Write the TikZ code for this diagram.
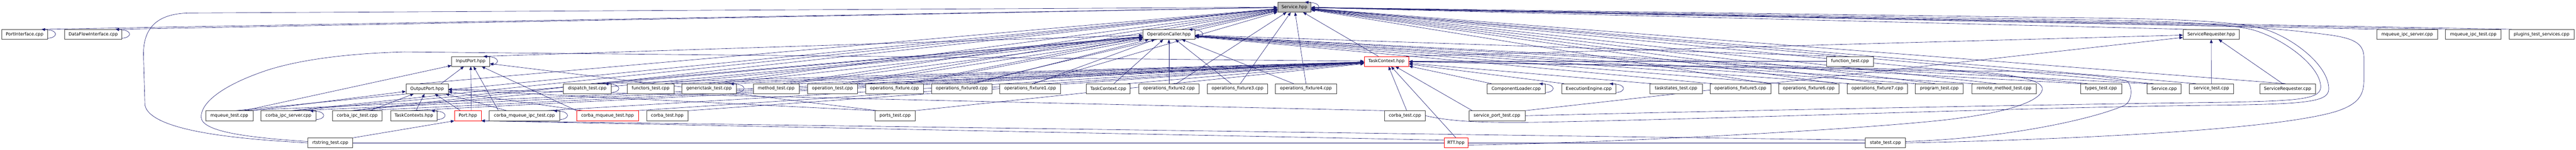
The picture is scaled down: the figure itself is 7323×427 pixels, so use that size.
\documentclass[tikz,border=0pt]{standalone}
\usepackage{fontspec}
\setmainfont{DejaVu Sans}
\usetikzlibrary{arrows.meta}
\definecolor{mblue}{HTML}{191970}
\definecolor{nodegray}{HTML}{404040}
\definecolor{fillgray}{HTML}{BFBFBF}
\newcommand\dxfont{\fontsize{12.4pt}{14pt}\selectfont}
\pgfdeclarelayer{bg}
\pgfdeclarelayer{fg}
\pgfsetlayers{bg,main,fg}
\newcommand\selfloop[1]{\draw[edge] ([yshift=-11pt]#1.east) .. controls +(30pt,2pt) and +(28pt,-2pt) .. ([yshift=13pt]#1.east) -- ([xshift=-18pt]#1.north east);}
\begin{document}
\begin{tikzpicture}[x=1pt,y=-1pt,
  box/.style={draw=nodegray,line width=1pt,fill=white,minimum height=28pt,inner sep=0pt,font=\dxfont},
  redbox/.style={box,draw=red},
  rootbox/.style={box,fill=fillgray},
  edge/.style={draw=mblue,line width=0.9pt,-{Triangle[length=10pt,width=8pt]}},
  plainedge/.style={draw=mblue,line width=0.9pt}]
\useasboundingbox (0,0) rectangle (7323,427);
% row 0
\node[rootbox,minimum width=95pt] (S) at (3679.5,20.5) {Service.hpp};
% row 1
\node[box,minimum width=131pt] (PI) at (70,98) {PortInterface.cpp};
\node[box,minimum width=162pt] (DFI) at (265,98) {DataFlowInterface.cpp};
\node[box,minimum width=148pt] (OC) at (3323,98) {OperationCaller.hpp};
\node[box,minimum width=160pt] (SRh) at (6286,98) {ServiceRequester.hpp};
\node[box,minimum width=172pt] (MIS) at (6843,98) {mqueue\_ipc\_server.cpp};
\node[box,minimum width=158pt] (MIT) at (7031,98) {mqueue\_ipc\_test.cpp};
\node[box,minimum width=184pt] (PTS) at (7225,98) {plugins\_test\_services.cpp};
% row 2
\node[box,minimum width=108pt] (IP) at (1338,175) {InputPort.hpp};
\node[redbox,minimum width=127pt] (TC) at (3941.5,175) {TaskContext.hpp};
\node[box,minimum width=132pt] (FT) at (5259,175) {function\_test.cpp};
% row 3
\node[box,minimum width=120pt] (OP) at (1214,253) {OutputPort.hpp};
\node[box,minimum width=135pt] (DT) at (1669.5,253) {dispatch\_test.cpp};
\node[box,minimum width=133pt] (FuT) at (1849.5,253) {functors\_test.cpp};
\node[box,minimum width=155pt] (GT) at (2015.5,253) {generictask\_test.cpp};
\node[box,minimum width=131pt] (MT) at (2206.5,253) {method\_test.cpp};
\node[box,minimum width=141pt] (OT) at (2366.5,253) {operation\_test.cpp};
\node[box,minimum width=164pt] (OF) at (2543,253) {operations\_fixture.cpp};
\node[box,minimum width=172pt] (OF0) at (2734,253) {operations\_fixture0.cpp};
\node[box,minimum width=173pt] (OF1) at (2928.5,253) {operations\_fixture1.cpp};
\node[box,minimum width=125pt] (TCc) at (3150.5,253) {TaskContext.cpp};
\node[box,minimum width=172pt] (OF2) at (3323,253) {operations\_fixture2.cpp};
\node[box,minimum width=172pt] (OF3) at (3518,253) {operations\_fixture3.cpp};
\node[box,minimum width=173pt] (OF4) at (3712.5,253) {operations\_fixture4.cpp};
\node[box,minimum width=166pt] (CL) at (4310,253) {ComponentLoader.cpp};
\node[box,minimum width=153pt] (EE) at (4516.5,253) {ExecutionEngine.cpp};
\node[box,minimum width=149pt] (TST) at (4764.5,253) {taskstates\_test.cpp};
\node[box,minimum width=173pt] (OF5) at (4947.5,253) {operations\_fixture5.cpp};
\node[box,minimum width=172pt] (OF6) at (5142,253) {operations\_fixture6.cpp};
\node[box,minimum width=172pt] (OF7) at (5337,253) {operations\_fixture7.cpp};
\node[box,minimum width=136pt] (PT) at (5513,253) {program\_test.cpp};
\node[box,minimum width=184pt] (RMT) at (5697,253) {remote\_method\_test.cpp};
\node[box,minimum width=117pt] (TyT) at (5972.5,253) {types\_test.cpp};
\node[box,minimum width=96pt] (Sc) at (6152,253) {Service.cpp};
\node[box,minimum width=125pt] (ST) at (6286.5,253) {service\_test.cpp};
\node[box,minimum width=158pt] (SRc) at (6503,253) {ServiceRequester.cpp};
% row 4
\node[box,minimum width=134pt] (MQT) at (652,330) {mqueue\_test.cpp};
\node[box,minimum width=156pt] (CIS) at (820,330) {corba\_ipc\_server.cpp};
\node[box,minimum width=141pt] (CIT) at (1015.5,330) {corba\_ipc\_test.cpp};
\node[box,minimum width=133pt] (TCs) at (1176.5,330) {TaskContexts.hpp};
\node[redbox,minimum width=76pt] (P) at (1330,330) {Port.hpp};
\node[box,minimum width=200pt] (CMIT) at (1491,330) {corba\_mqueue\_ipc\_test.cpp};
\node[redbox,minimum width=176pt] (CMT) at (1727,330) {corba\_mqueue\_test.hpp};
\node[box,minimum width=118pt] (CT) at (1897,330) {corba\_test.hpp};
\node[box,minimum width=113pt] (PoT) at (2544.5,330) {ports\_test.cpp};
\node[box,minimum width=116pt] (CTc) at (3994,330) {corba\_test.cpp};
\node[box,minimum width=159pt] (SPT) at (4255.5,330) {service\_port\_test.cpp};
% row 5
\node[box,minimum width=127pt] (RS) at (939,407.5) {rtstring\_test.cpp};
\node[redbox,minimum width=68pt] (RTT) at (4139,407.5) {RTT.hpp};
\node[box,minimum width=114pt] (StT) at (5360,407.5) {state\_test.cpp};

\begin{pgfonlayer}{bg}
\foreach \src/\ofs/\tgt in {
PI/55/S, DFI/70/S, OC/60/S, SRh/-70/S, MIS/-80/S, MIT/-75/S, PTS/-85/S,
IP/40/OC, TC/-23/S, TC/55/SRh, FT/-40/OC,
OP/40/IP, OP/-20/S,
DT/10/OC, DT/30/TC,
FuT/40/OC, FuT/60/TC,
GT/0/S, GT/25/OC, GT/45/TC,
MT/20/S, MT/40/OC, MT/60/TC,
OT/30/S, OT/50/OC, OT/65/TC,
OF/31/S, OF/47/OC,
OF0/22/S, OF0/34/OC,
OF1/5/S, OF1/11/OC,
TCc/16/OC, TCc/55/TC,
OF2/21/S, OF2/0/OC,
OF3/8/S, OF3/-18/OC,
OF4/0/S, OF4/-35/OC,
CL/-70/TC, EE/-70/TC, TST/-70/TC,
OF5/80/S, OF5/-80/OC,
OF6/80/S, OF6/-80/OC,
OF7/13/S, OF7/-80/OC,
PT/-12/S, PT/-66/OC,
RMT/-22/S, RMT/-88/OC,
TyT/-38/S, TyT/-56/OC,
Sc/-30/S, Sc/-46/OC,
ST/-44/S, ST/0/SRh,
SRc/-6/S, SRc/-14/SRh,
MQT/17/S, MQT/23/TC, MQT/41/IP, MQT/66/OP,
CIS/7/S, CIS/12/OC, CIS/29/TC,
CIT/-18/S, CIT/-12/OC, CIT/14/TC, CIT/36/OP,
TCs/-17/TC, TCs/6/OP,
P/-21/OP, P/10/IP,
CMIT/-74/IP, CMIT/-50/OP, CMIT/60/TC,
CMT/-88/IP, CMT/-70/OP, CMT/80/TC,
CT/59/TC,
PoT/-56/OP, PoT/-50/IP, PoT/56/TC,
CTc/5/TC, CTc/-58/OP,
SPT/-70/TC, SPT/79/SRh,
RTT/0/TC}
  {\draw[edge] ([xshift=\ofs pt]\src.north) -- (\tgt);}
\draw[edge] (FT.west) -- (TC);
\draw[edge] (RS.north east) -- (P.south west);
\draw[edge] ([yshift=8pt]RTT.west) -- (P.south east);
\draw[edge] ([yshift=8pt]StT.west) -- (P.south east);
\draw[plainedge] (RS.east) -- (RTT.west);
\draw[plainedge] (RTT.east) -- (StT.west);
% long loops on the left
\draw[edge] (RS.west) .. controls (760,400) and (430,385) .. (412,300) -- (408,160) .. controls (405,60) and (470,37) .. (545,37) -- (S);
\draw[edge] ([yshift=4pt]RS.west) .. controls (700,392) and (575,375) .. (572,335) .. controls (570,290) and (640,240) .. (760,200) .. controls (860,168) and (1000,152) .. (1150,148) -- (TC);
% long loops on the right
\draw[edge] ([yshift=-6pt]RTT.east) .. controls (4500,410) and (5200,375) .. (5500,345) .. controls (5700,325) and (5800,290) .. (5806,255) .. controls (5810,225) and (5700,205) .. (5500,198) -- (TC);
\draw[edge] ([yshift=4pt]StT.east) .. controls (5700,395) and (5950,340) .. (6040,300) .. controls (6062,288) and (6064,245) .. (6045,230) .. controls (5950,207) and (5700,200) .. (5550,203) -- (TC);
\draw[edge] (SPT.east) .. controls (4800,318) and (5800,298) .. (6300,292) .. controls (6520,288) and (6595,285) .. (6597,250) .. controls (6600,190) and (6490,108) .. (6400,84) .. controls (6330,68) and (6200,62) .. (6000,58) -- (S);
\draw[edge] (CTc.east) .. controls (4120,345) and (4200,352) .. (4400,348) .. controls (5000,336) and (5800,305) .. (6300,300) .. controls (6560,297) and (6618,290) .. (6620,255) .. controls (6622,185) and (6510,100) .. (6420,78) .. controls (6340,62) and (6200,55) .. (6000,52) -- (S);
\draw[edge] (StT.east) .. controls (5800,400) and (6450,375) .. (6640,318) .. controls (6712,295) and (6720,265) .. (6720,225) -- (6720,165) .. controls (6720,122) and (6690,108) .. (6610,98) .. controls (6500,84) and (6420,78) .. (6300,74) -- (S);
\end{pgfonlayer}

\begin{pgfonlayer}{fg}
\foreach \n in {PI,DFI,S,OC,IP,DT,GT,CIS,TCs,CMIT,CL,EE}
  {\selfloop{\n}}
\end{pgfonlayer}
\end{tikzpicture}
\end{document}
